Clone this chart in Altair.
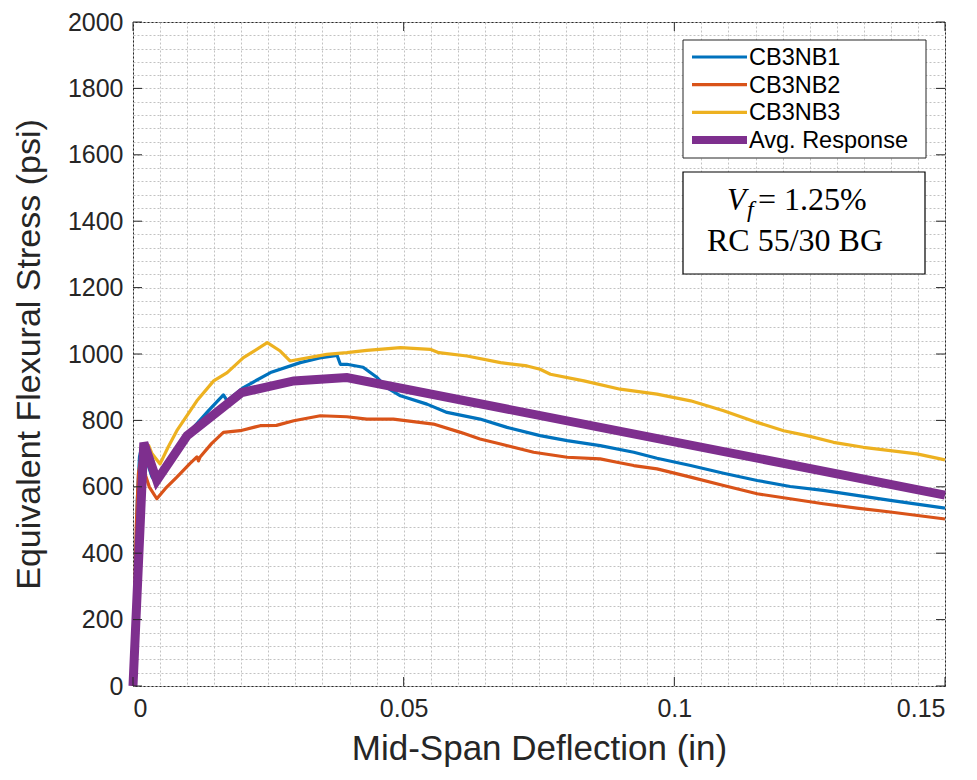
import altair as alt
import pandas as pd

# ---------------- data ----------------
series_names = ["CB3NB1", "CB3NB2", "CB3NB3", "Avg. Response"]
series_colors = ["#0072BD", "#D95319", "#EDB120", "#7E2F8E"]

nb1_x = [0, 0.0004, 0.0008, 0.0012, 0.0016, 0.0025, 0.0035, 0.0044, 0.006, 0.008,
         0.0112, 0.014, 0.0167, 0.0174, 0.0204, 0.0254, 0.0309, 0.0345, 0.0377, 0.0383,
         0.0395, 0.0425, 0.0451, 0.0469, 0.0494, 0.0543, 0.058, 0.0641, 0.0691, 0.0752,
         0.0802, 0.0863, 0.0925, 0.0968, 0.103, 0.1091, 0.1153, 0.1214, 0.1275, 0.1337,
         0.1399, 0.15]
nb1_y = [0, 300, 560, 690, 720, 680, 630, 610, 650, 710,
         779, 830, 877, 859, 899, 944, 974, 988, 996, 969,
         969, 960, 929, 899, 874, 849, 824, 804, 779, 754,
         739, 724, 704, 686, 664, 641, 619, 601, 589, 574,
         559, 536]

nb2_x = [0, 0.0003, 0.0006, 0.001, 0.0014, 0.002, 0.003, 0.0044, 0.006, 0.0081,
         0.0105, 0.0118, 0.0121, 0.0124, 0.0145, 0.0167, 0.0198, 0.0235, 0.0265, 0.0297,
         0.0346, 0.0395, 0.0432, 0.0481, 0.0555, 0.0605, 0.0641, 0.0679, 0.074, 0.0802,
         0.0863, 0.0894, 0.0925, 0.0968, 0.103, 0.1091, 0.1153, 0.1214, 0.1275, 0.1337,
         0.1399, 0.15]
nb2_y = [0, 250, 480, 640, 680, 650, 600, 564, 595, 629,
         670, 690, 678, 690, 730, 764, 769, 784, 785, 799,
         814, 811, 804, 804, 789, 764, 744, 729, 704, 689,
         684, 674, 664, 654, 629, 604, 579, 564, 549, 536,
         524, 503]

nb3_x = [0, 0.0005, 0.001, 0.0015, 0.002, 0.0029, 0.0035, 0.005, 0.0065, 0.0081,
         0.0118, 0.0149, 0.0174, 0.0204, 0.0248, 0.0272, 0.029, 0.0358, 0.0395, 0.0432,
         0.0494, 0.0549, 0.0565, 0.0617, 0.0679, 0.0728, 0.0752, 0.0771, 0.0833, 0.09,
         0.0968, 0.103, 0.1091, 0.1153, 0.1202, 0.1245, 0.1294, 0.1349, 0.1399, 0.1448,
         0.15]
nb3_y = [0, 250, 520, 660, 705, 724, 700, 669, 720, 769,
         859, 919, 944, 989, 1034, 1009, 979, 999, 1004, 1011,
         1019, 1014, 1004, 994, 974, 964, 954, 939, 919, 894,
         879, 859, 829, 794, 769, 754, 734, 719, 709, 699,
         681]

avg_x = [0, 0.002, 0.0044, 0.01, 0.0201, 0.0297, 0.0395, 0.15]
avg_y = [0, 733, 619, 754, 884, 919, 929, 575]

x_major = [0, 0.05, 0.1, 0.15]
y_major = [0, 200, 400, 600, 800, 1000, 1200, 1400, 1600, 1800, 2000]
x_minor = [round(i * 0.005, 4) for i in range(31)]
y_minor = [i * 40 for i in range(51)]

annot_line1 = "= 1.25%"
annot_line2 = "RC 55/30 BG"

# ---------------- tables ----------------
rows = []
for name, xs_, ys_ in zip(series_names[:3], [nb1_x, nb2_x, nb3_x], [nb1_y, nb2_y, nb3_y]):
    for i, (a, b) in enumerate(zip(xs_, ys_)):
        rows.append({"series": name, "x": a, "y": b, "order": i})
thin = pd.DataFrame(rows)
avg = pd.DataFrame({"series": series_names[3], "x": avg_x, "y": avg_y,
                    "order": list(range(len(avg_x)))})
xt = pd.DataFrame({"v": x_major})
yt = pd.DataFrame({"v": y_major})
one = pd.DataFrame({"k": [0]})

W, H = 812, 664
AX = "#262626"
SANS = "Liberation Sans"
SERIF = "Liberation Serif"
TL = 9  # inward tick length

xs = alt.Scale(domain=[0, 0.15], nice=False, zero=False)
ys = alt.Scale(domain=[0, 2000], nice=False, zero=False)

# grid layer
grid = alt.Chart(thin).mark_line(strokeOpacity=0).encode(
    x=alt.X("x:Q", scale=xs, axis=alt.Axis(orient="bottom", values=x_minor, grid=True,
            ticks=False, labels=False, domain=False, title=None, gridDash=[2, 2],
            gridColor="#c2c2c2", gridWidth=1)),
    y=alt.Y("y:Q", scale=ys, axis=alt.Axis(orient="left", values=y_minor, grid=True,
            ticks=False, labels=False, domain=False, title=None, gridDash=[2, 2],
            gridColor="#c2c2c2", gridWidth=1)),
    detail="series:N",
    order="order:Q",
)

# thin test lines with labelled axes
lines = alt.Chart(thin).mark_line(strokeWidth=3.2, strokeJoin="round").encode(
    x=alt.X("x:Q", scale=xs, axis=alt.Axis(orient="bottom", values=x_major,
            labelExpr="datum.value == 0 ? '0' : format(datum.value, '~g')",
            ticks=False, tickSize=0, domain=False, grid=False,
            labelFont=SANS, labelFontSize=25, labelColor=AX, labelPadding=10,
            title="Mid-Span Deflection (in)", titleFont=SANS, titleFontSize=35,
            titleFontWeight="normal", titleColor=AX, titlePadding=10)),
    y=alt.Y("y:Q", scale=ys, axis=alt.Axis(orient="left", values=y_major, format="d",
            ticks=False, tickSize=0, domain=False, grid=False,
            labelFont=SANS, labelFontSize=25, labelColor=AX, labelPadding=10,
            title="Equivalent Flexural Stress (psi)", titleFont=SANS, titleFontSize=34,
            titleFontWeight="normal", titleColor=AX, titlePadding=21)),
    color=alt.Color("series:N", scale=alt.Scale(domain=series_names[:3],
                    range=series_colors[:3]), legend=None),
    order="order:Q",
)

# average response
avg_line = alt.Chart(avg).mark_line(strokeWidth=9, color=series_colors[3]).encode(
    x=alt.X("x:Q", scale=xs, axis=None),
    y=alt.Y("y:Q", scale=ys, axis=None),
    order="order:Q",
)

# inward ticks on all four sides (MATLAB box style), placed by the shared scales
tick_layers = [
    alt.Chart(xt).mark_rule(color=AX, strokeWidth=1).encode(
        x=alt.X("v:Q", scale=xs, axis=None), y=alt.value(H), y2=alt.value(H - TL)),
    alt.Chart(xt).mark_rule(color=AX, strokeWidth=1).encode(
        x=alt.X("v:Q", scale=xs, axis=None), y=alt.value(0), y2=alt.value(TL)),
    alt.Chart(yt).mark_rule(color=AX, strokeWidth=1).encode(
        y=alt.Y("v:Q", scale=ys, axis=None), x=alt.value(0), x2=alt.value(TL)),
    alt.Chart(yt).mark_rule(color=AX, strokeWidth=1).encode(
        y=alt.Y("v:Q", scale=ys, axis=None), x=alt.value(W - TL), x2=alt.value(W)),
]

# legend box
LX0, LX1, LY0, LY1 = 550, 793, 18, 136
legend_layers = [
    alt.Chart(one).mark_rect(fill="white", stroke=AX, strokeWidth=1).encode(
        x=alt.value(LX0), x2=alt.value(LX1), y=alt.value(LY0), y2=alt.value(LY1))
]
row_y = [35, 62.7, 90.3, 118]
for name, col, ry, sw in zip(series_names, series_colors, row_y, [3.2, 3.2, 3.2, 8]):
    legend_layers.append(
        alt.Chart(one).mark_rule(color=col, strokeWidth=sw).encode(
            x=alt.value(559), x2=alt.value(614), y=alt.value(ry)))
    legend_layers.append(
        alt.Chart(one).mark_text(text=name, font=SANS, fontSize=23.5, color="black",
                                 align="left", baseline="middle").encode(
            x=alt.value(616), y=alt.value(ry + 1)))

# annotation box
annot_layers = [
    alt.Chart(one).mark_rect(fill="white", stroke="black", strokeWidth=1.2).encode(
        x=alt.value(550), x2=alt.value(792), y=alt.value(150), y2=alt.value(252)),
    alt.Chart(one).mark_text(text="V", font=SERIF, fontSize=31, fontStyle="italic",
                             color="black", align="left", baseline="alphabetic").encode(
        x=alt.value(594), y=alt.value(188)),
    alt.Chart(one).mark_text(text="f", font=SERIF, fontSize=24, fontStyle="italic",
                             color="black", align="left", baseline="alphabetic").encode(
        x=alt.value(614), y=alt.value(195)),
    alt.Chart(one).mark_text(text=annot_line1, font=SERIF, fontSize=32,
                             color="black", align="left", baseline="alphabetic").encode(
        x=alt.value(625), y=alt.value(188)),
    alt.Chart(one).mark_text(text=annot_line2, font=SERIF, fontSize=32,
                             color="black", align="left", baseline="alphabetic").encode(
        x=alt.value(574), y=alt.value(229)),
]

chart = alt.layer(grid, lines, avg_line, *tick_layers, *legend_layers,
                  *annot_layers).resolve_scale(
    x="shared", y="shared"
).resolve_axis(
    x="independent", y="independent"
).properties(
    width=W, height=H,
    padding={"left": 4, "top": 2, "right": 0, "bottom": 5},
    background="white",
).configure_view(
    stroke=AX, strokeWidth=1
)

chart.save("out.html", embed_options={"renderer": "svg", "actions": False})
